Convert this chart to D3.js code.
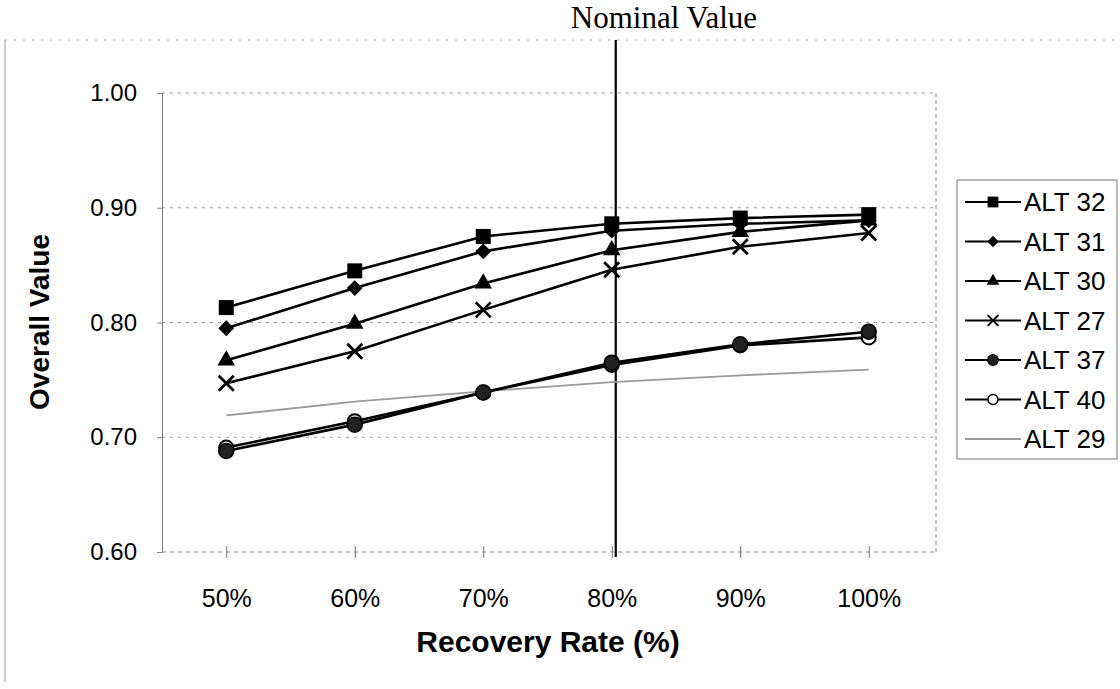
<!DOCTYPE html>
<html>
<head>
<meta charset="utf-8">
<script src="https://cdn.jsdelivr.net/npm/d3@7"></script>
<style>
  body { margin: 0; background: #fff; }
  svg { display: block; }
</style>
</head>
<body>
<div id="chart"></div>
<script>
// values
var categories = ["50%", "60%", "70%", "80%", "90%", "100%"];
var yTicks = [0.60, 0.70, 0.80, 0.90, 1.00];
var seriesNames = ["ALT 32", "ALT 31", "ALT 30", "ALT 27", "ALT 37", "ALT 40", "ALT 29"];
var alt32 = [0.813, 0.845, 0.875, 0.886, 0.891, 0.894];
var alt31 = [0.795, 0.830, 0.862, 0.880, 0.886, 0.889];
var alt30 = [0.767, 0.799, 0.834, 0.863, 0.879, 0.889];
var alt27 = [0.747, 0.775, 0.811, 0.846, 0.866, 0.878];
var alt37 = [0.688, 0.711, 0.739, 0.765, 0.781, 0.792];
var alt40 = [0.691, 0.714, 0.739, 0.763, 0.780, 0.787];
var alt29 = [0.719, 0.731, 0.740, 0.748, 0.754, 0.759];
var nominalCategory = "80%";

var seriesValues = [alt32, alt31, alt30, alt27, alt37, alt40, alt29];
var markers = ["square", "diamond", "triangle", "x", "dot", "ring", "none"];

var W = 1120, H = 689;
var sans = "Liberation Sans, Arial, sans-serif";
var svg = d3.select("#chart").append("svg").attr("width", W).attr("height", H);

var x = d3.scalePoint().domain(categories).range([162, 933]).padding(0.5);
var y = d3.scaleLinear().domain([0.6, 1.0]).range([552, 93]);

// outer chart border (faint, as in the scan)
svg.append("line").attr("x1", 5).attr("x2", 5).attr("y1", 40).attr("y2", 682)
    .style("stroke", "#999").style("stroke-width", 1);
svg.append("line").attr("x1", 5).attr("x2", 1116).attr("y1", 40).attr("y2", 40)
    .style("stroke", "#aaa").style("stroke-width", 1).style("stroke-dasharray", "2,7");

// gridlines
svg.append("g").selectAll("line").data(yTicks.filter(d => d > 0.6)).enter().append("line")
    .attr("x1", 162).attr("x2", 936)
    .attr("y1", d => y(d)).attr("y2", d => y(d))
    .style("stroke", "#999").style("stroke-width", 1).style("stroke-dasharray", "3,5");

// right border of plot area
svg.append("line").attr("x1", 936).attr("x2", 936).attr("y1", 93).attr("y2", 552)
    .style("stroke", "#888").style("stroke-width", 1).style("stroke-dasharray", "4,3");

// axes
var yAxis = d3.axisLeft(y).tickValues(yTicks).tickFormat(d3.format(".2f")).tickSize(5).tickPadding(20);
var gy = svg.append("g").attr("class", "yAxis").attr("transform", "translate(162,0)").call(yAxis);
gy.select(".domain").style("stroke", "#777");
gy.selectAll(".tick line").style("stroke", "#888");
gy.selectAll("text").style("font-family", sans).style("font-size", "24px").attr("fill", "#000");

var xAxis = d3.axisBottom(x).tickSize(0).tickPadding(37);
var gx = svg.append("g").attr("class", "xAxis").attr("transform", "translate(0,552)").call(xAxis);
gx.select(".domain").attr("d", "M162,0H936").style("stroke", "#888").style("stroke-dasharray", "4,4");
gx.selectAll(".tick").append("line").attr("y1", -6).attr("y2", 6).style("stroke", "#777");
gx.selectAll("text").style("font-family", sans).style("font-size", "25px").attr("fill", "#000");

// axis titles
svg.append("text").attr("x", 548).attr("y", 652).attr("text-anchor", "middle")
    .style("font-family", sans).style("font-weight", "bold").style("font-size", "30px")
    .text("Recovery Rate (%)");
svg.append("text").attr("transform", "translate(49,322) rotate(-90)").attr("text-anchor", "middle")
    .style("font-family", sans).style("font-weight", "bold").style("font-size", "28px")
    .text("Overall Value");

// nominal value line
var nx = x(nominalCategory) + 4;
svg.append("line").attr("x1", nx).attr("x2", nx).attr("y1", 40).attr("y2", 557)
    .style("stroke", "#000").style("stroke-width", 2.2);
svg.append("text").attr("x", 664).attr("y", 28).attr("text-anchor", "middle")
    .style("font-family", "Liberation Serif, Times New Roman, serif").style("font-size", "31px")
    .text("Nominal Value");

function drawMarker(g, type) {
    if (type === "square") {
        g.append("path").attr("d", d3.symbol(d3.symbolSquare, 225)()).attr("fill", "#000");
    } else if (type === "diamond") {
        g.append("path").attr("d", d3.symbol(d3.symbolSquare, 125)()).attr("transform", "rotate(45)").attr("fill", "#000");
    } else if (type === "triangle") {
        g.append("path").attr("d", d3.symbol(d3.symbolTriangle, 135)()).attr("fill", "#000");
    } else if (type === "x") {
        var s = 7.5;
        g.append("path").attr("d", `M${-s},${-s}L${s},${s}M${-s},${s}L${s},${-s}`)
            .attr("stroke", "#000").attr("stroke-width", 2.8).attr("fill", "none");
    } else if (type === "dot") {
        g.append("circle").attr("r", 7.5).attr("fill", "#222").attr("stroke", "#000").attr("stroke-width", 1.5);
    } else if (type === "ring") {
        g.append("circle").attr("r", 7).attr("fill", "#fff").attr("stroke", "#000").attr("stroke-width", 2);
    }
}

var line = d3.line().x((d, i) => x(categories[i])).y(d => y(d));

// draw series, ALT 29 first so black lines sit on top
var order = [6, 5, 4, 3, 2, 1, 0];
order.forEach(function(k) {
    var vals = seriesValues[k];
    var isGray = markers[k] === "none";
    svg.append("path").datum(vals).attr("d", line).attr("fill", "none")
        .style("stroke", isGray ? "#9a9a9a" : "#000").style("stroke-width", isGray ? 1.8 : 2.6);
    if (!isGray) {
        svg.append("g").selectAll("g").data(vals).enter().append("g")
            .attr("transform", (d, i) => `translate(${x(categories[i])},${y(d)})`)
            .each(function() { drawMarker(d3.select(this), markers[k]); });
    }
});

// legend
var legend = svg.append("g").attr("class", "legend");
legend.append("rect").attr("x", 957).attr("y", 180).attr("width", 160).attr("height", 279)
    .attr("fill", "#fff").style("stroke", "#777").style("stroke-width", 1);
var rows = legend.selectAll("g").data(seriesNames).enter().append("g")
    .attr("transform", (d, i) => `translate(0,${202 + i * 39.5})`);
rows.append("line").attr("x1", 965).attr("x2", 1021).attr("y1", 0).attr("y2", 0)
    .style("stroke", (d, i) => markers[i] === "none" ? "#9a9a9a" : "#000")
    .style("stroke-width", (d, i) => markers[i] === "none" ? 1.8 : 2);
rows.append("g").attr("transform", "translate(993,0) scale(0.72)")
    .each(function(d, i) { drawMarker(d3.select(this), markers[i]); });
rows.append("text").attr("x", 1024).attr("y", 9).text(d => d)
    .style("font-family", sans).style("font-size", "26px");
</script>
</body>
</html>
